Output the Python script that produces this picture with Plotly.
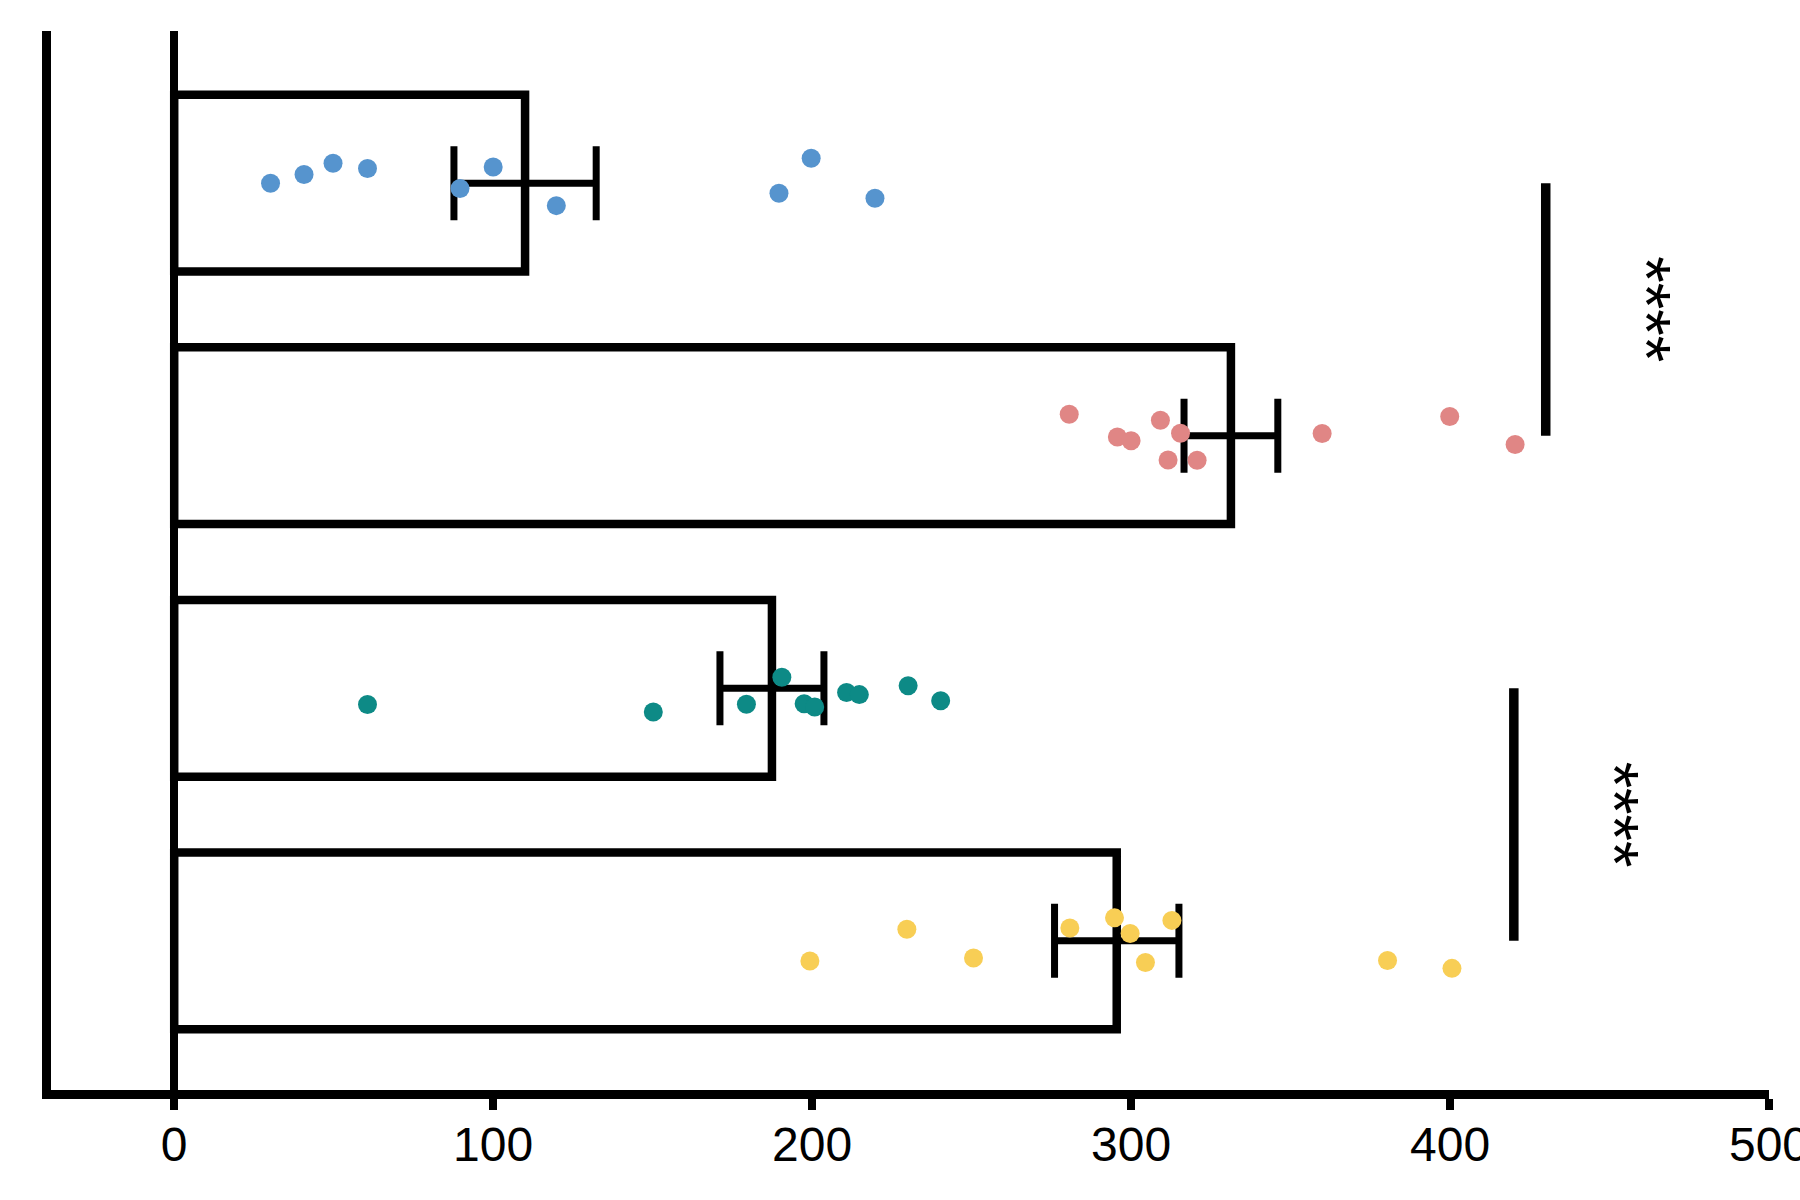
import plotly.graph_objects as go

# ---- data ----
groups = ["A", "B", "C", "D"]
positions = [0, 1, 2, 3]
means = [110.0, 331.3, 187.4, 295.5]
errors = [22.3, 14.7, 16.3, 19.5]
colors = ["#5694CE", "#E08685", "#0D8A86", "#F8CE55"]

vals_a = [30.2, 40.7, 49.8, 60.6, 89.6, 100.0, 119.8, 189.6, 199.7, 219.7]
jit_a = [0.0, -0.034, -0.079, -0.058, 0.021, -0.064, 0.089, 0.040, -0.099, 0.060]
vals_b = [280.6, 295.7, 300.0, 309.2, 315.5, 311.6, 320.7, 359.9, 399.9, 420.4]
jit_b = [-0.085, 0.005, 0.020, -0.061, -0.010, 0.096, 0.097, -0.009, -0.076, 0.035]
vals_c = [60.6, 150.2, 179.4, 190.5, 197.5, 200.8, 210.8, 214.8, 230.1, 240.3]
jit_c = [0.064, 0.094, 0.063, -0.044, 0.061, 0.074, 0.017, 0.025, -0.010, 0.049]
vals_d = [199.3, 229.7, 250.6, 280.8, 294.8, 299.7, 304.5, 312.8, 380.4, 400.6]
jit_d = [0.080, -0.046, 0.068, -0.051, -0.091, -0.029, 0.086, -0.081, 0.078, 0.109]

sig_x = [430, 420]
sig_pairs = [(0, 1), (2, 3)]
sig_labels = ["****", "****"]
sig_label_x = [461.5, 452]

x_ticks = [0, 100, 200, 300, 400, 500]

fig = go.Figure()

fig.add_trace(go.Bar(
    y=positions, x=means, orientation="h", width=0.70,
    marker=dict(color="rgba(255,255,255,0)", line=dict(color="black", width=8.5)),
    error_x=dict(type="data", array=errors, symmetric=True, color="black",
                 thickness=7, width=37),
    showlegend=False,
))

for vals, jit, pos, col in zip([vals_a, vals_b, vals_c, vals_d],
                               [jit_a, jit_b, jit_c, jit_d], positions, colors):
    fig.add_trace(go.Scatter(
        x=vals, y=[pos + j for j in jit], mode="markers",
        marker=dict(color=col, size=19, line=dict(width=0)),
        showlegend=False,
    ))

for sx, (p1, p2), lab, lx in zip(sig_x, sig_pairs, sig_labels, sig_label_x):
    fig.add_trace(go.Scatter(
        x=[sx, sx], y=[positions[p1], positions[p2]], mode="lines",
        line=dict(color="black", width=9.5), showlegend=False,
    ))
    fig.add_annotation(
        x=lx, y=(positions[p1] + positions[p2]) / 2, xref="x", yref="y",
        text=lab, textangle=90, showarrow=False,
        font=dict(family="Liberation Sans, Arial", size=68, color="black"),
    )

fig.update_layout(
    width=1800, height=1200,
    margin=dict(l=51, r=31.2, t=31, b=109.8, pad=0),
    paper_bgcolor="white", plot_bgcolor="white",
    font=dict(family="Liberation Sans, Arial", color="black"),
    xaxis=dict(
        range=[-38.63, 500], tickvals=x_ticks, ticktext=[str(t) for t in x_ticks],
        showline=True, linecolor="black", linewidth=9,
        ticks="outside", ticklen=11, tickwidth=8.3, tickcolor="black",
        tickfont=dict(size=48, color="black", family="Liberation Sans, Arial"),
        ticklabeloverflow="allow", ticklabelstandoff=-7,
        showgrid=False, zeroline=True, zerolinecolor="black", zerolinewidth=8.3,
        automargin=False,
    ),
    yaxis=dict(
        range=[3.5906, -0.6025], showline=True, linecolor="black", linewidth=8.5,
        showticklabels=False, ticks="", showgrid=False, zeroline=False,
        automargin=False,
    ),
)

fig.write_html("out.html")
